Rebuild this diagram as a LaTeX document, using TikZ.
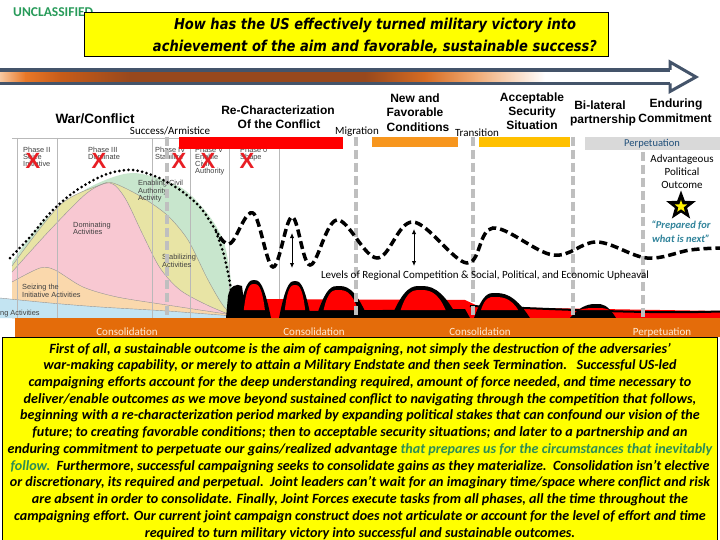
\documentclass[tikz,border=0pt]{standalone}
\usepackage{graphicx}
\usepackage{fontspec}
\setmainfont{Carlito}
\newfontfamily\arialf{Liberation Sans}
\newfontfamily\verdf{DejaVu Sans}
\usetikzlibrary{shapes.geometric,arrows.meta}
\definecolor{ttlyellow}{RGB}{255,255,0}
\definecolor{slate}{RGB}{68,84,106}
\definecolor{unclgreen}{RGB}{40,155,90}
\definecolor{xred}{RGB}{232,30,36}
\definecolor{barred}{RGB}{255,0,0}
\definecolor{barorange}{RGB}{247,150,30}
\definecolor{baryellow}{RGB}{255,192,0}
\definecolor{bargray}{RGB}{217,217,217}
\definecolor{perpblue}{RGB}{31,78,121}
\definecolor{consorange}{RGB}{228,108,10}
\definecolor{constext}{RGB}{255,236,215}
\definecolor{dashgray}{RGB}{191,191,191}
\definecolor{chartline}{RGB}{185,185,185}
\definecolor{cblue}{RGB}{195,228,242}
\definecolor{cpeach}{RGB}{250,216,172}
\definecolor{cpink}{RGB}{248,200,210}
\definecolor{ckhaki}{RGB}{232,228,165}
\definecolor{cgreen}{RGB}{200,230,205}
\definecolor{tealtxt}{RGB}{49,132,155}
\definecolor{greentxt}{RGB}{45,140,85}
\definecolor{ga}{RGB}{248,200,160}
\definecolor{gb}{RGB}{232,120,40}
\definecolor{gc}{RGB}{200,92,25}
\definecolor{gd}{RGB}{152,72,28}
\definecolor{ge}{RGB}{214,108,35}
\definecolor{gf}{RGB}{240,170,115}
\newcommand\humpfill[4]{%
  \fill[black] (#1,318) .. controls ({#1+0.45*(#2-#1)},{#4-1}) and ({#2-0.25*(#2-#1)},{#4-1}) .. (#2,{#4-1})
     .. controls ({#2+0.25*(#3-#2)},{#4-1}) and ({#3-0.45*(#3-#2)},{#4-1}) .. (#3,318) -- cycle;
  \fill[barred] ({#1+0.3*(#2-#1)+1},310) .. controls ({#1+0.55*(#2-#1)},{#4+3}) and ({#2-0.2*(#2-#1)},{#4+3}) .. (#2,{#4+3})
     .. controls ({#2+0.2*(#3-#2)},{#4+3}) and ({#3-0.55*(#3-#2)},{#4+3}) .. ({#3-0.3*(#3-#2)-1},310) -- cycle;
}
\begin{document}
\begin{tikzpicture}[x=1pt,y=-1pt,
  lbl/.style={font=\arialf\bfseries\fontsize{12}{14}\selectfont, inner sep=0, anchor=base},
  smalllbl/.style={font=\fontsize{11}{13}\selectfont, inner sep=0, anchor=base},
  tinylbl/.style={font=\arialf\fontsize{7.4}{8}\selectfont, text=black!75, inner sep=0, anchor=base west},
  xmark/.style={font=\arialf\bfseries\fontsize{22}{22}\selectfont, text=xred, inner sep=0},
  bodyline/.style={font=\bfseries\itshape\fontsize{14.1}{16}\selectfont, inner sep=0, anchor=base},
  titleline/.style={font=\verdf\bfseries\itshape\fontsize{15}{18}\selectfont, inner sep=0, anchor=base},
  vdash/.style={dashgray, line width=4pt, dash pattern=on 9pt off 4pt},
  dotline/.style={line width=3pt, line cap=round, dash pattern=on 0pt off 4.6pt},
  waveline/.style={line width=3.5pt, dash pattern=on 8pt off 4pt},
  chartv/.style={chartline, line width=0.6pt},
  dblarrow/.style={line width=1pt, {Latex[length=5pt,width=4.5pt]}-{Latex[length=5pt,width=4.5pt]}},
  conslbl/.style={font=\fontsize{11}{13}\selectfont, text=constext, inner sep=0, anchor=base}
]
\useasboundingbox (0,0) rectangle (720,540);
\fill[white] (0,0) rectangle (720,540);

% ---------- header ----------
\node[font=\bfseries\fontsize{13.5}{15}\selectfont, text=unclgreen, anchor=base west, inner sep=0] (uncl) at (13,17) {UNCLASSIFIED};
\node[draw=black, fill=ttlyellow, line width=1pt, minimum width=524pt, minimum height=44pt, inner sep=0, anchor=north west] (titlebox) at (84,12) {};
\node[titleline] (t1) at (375,30) {\resizebox{402pt}{\height}{How has the US effectively turned military victory into}};
\node[titleline] (t2) at (375,52) {\resizebox{444pt}{\height}{achievement of the aim and favorable, sustainable success?}};

% ---------- gradient arrow ----------
\fill[left color=ga, right color=gb] (0,71.5) rectangle (25.5,82);
\fill[left color=gb, right color=gc] (25,71.5) rectangle (60.5,82);
\fill[left color=gc, right color=gd] (60,71.5) rectangle (130.5,82);
\fill[gd] (130,71.5) rectangle (365.5,82);
\fill[left color=gd, right color=ge] (365,71.5) rectangle (425.5,82);
\fill[left color=ge, right color=gf] (425,71.5) rectangle (475.5,82);
\fill[left color=gf, right color=white] (475,71.5) rectangle (545,82);
\draw[slate, line width=3.5pt] (0,70) -- (670,70);
\draw[slate, line width=3.5pt] (0,83.5) -- (670,83.5);
\draw[slate, line width=3pt, line join=miter] (670,70) -- (670,62) -- (696,77) -- (670,91.5) -- (670,83.5);

% ---------- top labels ----------
\node[lbl, font=\arialf\bfseries\fontsize{13.5}{15}\selectfont] (war) at (95,124) {War/Conflict};
\node[smalllbl] (succ) at (170,135) {Success/Armistice};
\node[lbl] (rc1) at (278,115) {Re-Characterization};
\node[lbl] (rc2) at (279,129) {Of the Conflict};
\node[smalllbl] (migr) at (357,135) {Migration};
\node[lbl] (nf1) at (415,103) {New and};
\node[lbl] (nf2) at (415,117) {Favorable};
\node[lbl] (nf3) at (418,132) {Conditions};
\node[smalllbl] (trans) at (477,137) {Transition};
\node[lbl] (as1) at (532,102) {Acceptable};
\node[lbl] (as2) at (532,116) {Security};
\node[lbl] (as3) at (532,130) {Situation};
\node[lbl] (bl1) at (600,110) {Bi-lateral};
\node[lbl] (bl2) at (603,124) {partnership};
\node[lbl] (ec1) at (676,108) {Enduring};
\node[lbl] (ec2) at (675,123) {Commitment};

% ---------- phase chart ----------
\fill[cgreen] plot[smooth] coordinates {(12,262) (30,237) (50,215) (90,187) (133,173) (180,187) (207,213) (223,240) (230,273) (234,316)} -- (234,318) -- (12,318) -- cycle;
\fill[ckhaki] plot[smooth] coordinates {(12,266) (60,205) (100,185) (113,183) (140,196) (167,215) (188,240) (207,278) (222,304) (233,316)} -- (233,318) -- (12,318) -- cycle;
\fill[cpink] plot[smooth] coordinates {(12,272) (50,230) (87,193) (110,183) (125,198) (143,235) (160,268) (180,290) (207,305) (233,316)} -- (233,318) -- (12,318) -- cycle;
\fill[cpeach] plot[smooth] coordinates {(12,282) (40,268) (55,270) (83,287) (117,297) (167,305) (233,315)} -- (233,318) -- (12,318) -- cycle;
\fill[cblue] plot[smooth] coordinates {(0,298) (50,303) (100,307) (167,311) (233,316)} -- (233,318) -- (0,318) -- cycle;
\draw[chartline!80!black, line width=0.4pt] plot[smooth] coordinates {(12,266) (60,205) (100,185) (113,183) (140,196) (167,215) (188,240) (207,278) (222,304) (233,316)};
\draw[chartline!80!black, line width=0.4pt] plot[smooth] coordinates {(12,272) (50,230) (87,193) (110,183) (125,198) (143,235) (160,268) (180,290) (207,305) (233,316)};
\draw[chartline!80!black, line width=0.4pt] plot[smooth] coordinates {(12,282) (40,268) (55,270) (83,287) (117,297) (167,305) (233,315)};
\draw[chartline!80!black, line width=0.4pt] plot[smooth] coordinates {(0,298) (50,303) (100,307) (167,311) (233,316)};
\draw[chartv] (12,138) -- (280,138);
\foreach \xx in {17,57,152,190,229} { \draw[chartv] (\xx,138) -- (\xx,318); }
\draw[chartv] (279,138) -- (279,300);

\node[tinylbl] (p2a) at (23,153) {Phase II};
\node[tinylbl] (p2b) at (23,160) {Seize};
\node[tinylbl] (p2c) at (23,167) {Initiative};
\node[tinylbl] (p3a) at (88,153) {Phase III};
\node[tinylbl] (p3b) at (88,160) {Dominate};
\node[tinylbl] (p4a) at (155,153) {Phase IV};
\node[tinylbl] (p4b) at (155,160) {Stabilize};
\node[tinylbl] (p5a) at (195,153) {Phase V};
\node[tinylbl] (p5b) at (195,160) {Enable};
\node[tinylbl] (p5c) at (195,167) {Civil};
\node[tinylbl] (p5d) at (195,174) {Authority};
\node[tinylbl] (p0a) at (240,153) {Phase 0};
\node[tinylbl] (p0b) at (240,160) {Shape};
\node[tinylbl] (ec1l) at (138,186) {Enabling Civil};
\node[tinylbl] (ec2l) at (138,193.5) {Authority};
\node[tinylbl] (ec3l) at (138,201) {Activity};
\node[tinylbl] (dm1) at (73,227) {Dominating};
\node[tinylbl] (dm2) at (73,235) {Activities};
\node[tinylbl] (st1) at (162,259) {Stabilizing};
\node[tinylbl] (st2) at (162,267) {Activities};
\node[tinylbl] (sz1) at (22,289) {Seizing the};
\node[tinylbl] (sz2) at (22,297) {Initiative Activities};
\node[tinylbl] (dt1) at (0,315) {ng Activities};

\node[xmark] (x1) at (33,161) {X};
\node[xmark] (x2) at (99,161) {X};
\node[xmark] (x3) at (179,161) {X};
\node[xmark] (x4) at (208,161) {X};
\node[xmark] (x5) at (247,161) {X};

% ---------- bars ----------
\fill[barred] (179,137) rectangle (343,149);
\fill[barorange] (372,137) rectangle (458,147);
\fill[baryellow] (479,137) rectangle (570,147);
\fill[bargray] (585,137) rectangle (720,150);
\node[font=\fontsize{10.5}{12}\selectfont, text=perpblue, inner sep=0, anchor=base] (perp) at (652,146.5) {Perpetuation};

% ---------- bottom red/black shapes ----------
\fill[barred] (236,299) -- (465,300) -- (480,307) -- (720,311) -- (720,318) -- (236,318) -- cycle;
\draw[black, line width=2pt] (470,306) .. controls (560,309) and (640,314) .. (720,311.5);
\fill[black] (226,318) -- (228,296) .. controls (230,286) and (236,283) .. (242,286) -- (246,318) -- cycle;
\fill[black] (300,318) -- (300,311) -- (465,309) -- (470,318) -- cycle;
\humpfill{238}{254}{271}{281}
\humpfill{279}{295}{311}{282}
\humpfill{316}{338}{368}{287}
\humpfill{391}{420}{458}{287}
\humpfill{474}{494}{530}{294}
\humpfill{570}{597}{616}{305}

% ---------- vertical dashed lines ----------
\draw[vdash] (167,137) -- (167,318);
\draw[vdash] (356,137) -- (356,318);
\draw[vdash] (473,137) -- (473,318);
\draw[vdash] (573,137) -- (573,318);
\draw[vdash] (643,152) -- (643,318);

% ---------- dotted / dashed curves ----------
\draw[dotline] plot[smooth] coordinates {(10,258) (30,237) (50,213) (70,195) (90,182) (110,173) (133,170) (157,177) (180,190) (200,207) (213,226) (220,237)};
\draw[dotline] plot[smooth] coordinates {(216,232) (224,255) (229,278) (232,296)};
\draw[waveline] plot[smooth, tension=0.6] coordinates {(220,237) (231,243) (253,213) (273,267) (292,217) (310,265) (337,220) (377,258) (413,222) (467,263) (493,228) (553,255) (597,242) (647,258) (690,250) (720,248)};

\coordinate (da1) at (292,233);
\coordinate (da2) at (292,268);
\coordinate (db1) at (414,229);
\coordinate (db2) at (414,266);
\draw[dblarrow] (da1) -- (da2);
\draw[dblarrow] (db1) -- (db2);

\node[font=\fontsize{11}{13}\selectfont, inner sep=0, anchor=base] (levels) at (485,278) {Levels of Regional Competition \& Social, Political, and Economic Upheaval};

% ---------- outcome ----------
\node[smalllbl] (adv1) at (682,163) {Advantageous};
\node[smalllbl] (adv2) at (682,176) {Political};
\node[smalllbl] (adv3) at (682,189) {Outcome};
\node[star, star points=5, star point ratio=2.4, minimum size=31pt, fill=black, inner sep=0] (starb) at (681,206) {};
\node[star, star points=5, star point ratio=2.4, minimum size=13pt, fill=yellow, inner sep=0] (stary) at (681,206.5) {};
\node[font=\bfseries\itshape\fontsize{10.5}{12}\selectfont, text=tealtxt, inner sep=0, anchor=base] (prep1) at (681,229) {“Prepared for};
\node[font=\bfseries\itshape\fontsize{10.5}{12}\selectfont, text=tealtxt, inner sep=0, anchor=base] (prep2) at (681,242) {what is next”};

% ---------- consolidation band ----------
\fill[consorange] (15,318) rectangle (720,337);
\node[conslbl] (c1) at (127,335) {Consolidation};
\node[conslbl] (c2) at (314,335) {Consolidation};
\node[conslbl] (c3) at (480,335) {Consolidation};
\node[conslbl] (c4) at (662,335) {Perpetuation};

% ---------- body text box ----------
\draw[black, line width=1pt, fill=ttlyellow] (2.5,337) rectangle (717,541);
\node[bodyline] (b1) at (360,353) {First of all, a sustainable outcome is the aim of campaigning, not simply the destruction of the adversaries’};
\node[bodyline] (b2) at (360,369.7) {war-making capability, or merely to attain a Military Endstate and then seek Termination.\ \ \ Successful US-led};
\node[bodyline] (b3) at (360,386.5) {campaigning efforts account for the deep understanding required, amount of force needed, and time necessary to};
\node[bodyline] (b4) at (360,403.2) {deliver/enable outcomes as we move beyond sustained conflict to navigating through the competition that follows,};
\node[bodyline] (b5) at (360,419.9) {beginning with a re-characterization period marked by expanding political stakes that can confound our vision of the};
\node[bodyline] (b6) at (360,436.7) {future; to creating favorable conditions; then to acceptable security situations; and later to a partnership and an};
\node[bodyline] (b7) at (360,453.4) {enduring commitment to perpetuate our gains/realized advantage {\color{greentxt}that prepares us for the circumstances that inevitably}};
\node[bodyline] (b8) at (360,470.1) {{\color{greentxt}follow.}\ \ Furthermore, successful campaigning seeks to consolidate gains as they materialize.\ \ Consolidation isn’t elective};
\node[bodyline] (b9) at (360,486.8) {or discretionary, its required and perpetual.\ \ Joint leaders can’t wait for an imaginary time/space where conflict and risk};
\node[bodyline] (b10) at (360,503.6) {are absent in order to consolidate. Finally, Joint Forces execute tasks from all phases, all the time throughout the};
\node[bodyline] (b11) at (360,520.3) {campaigning effort. Our current joint campaign construct does not articulate or account for the level of effort and time};
\node[bodyline] (b12) at (360,537) {required to turn military victory into successful and sustainable outcomes.};
\end{tikzpicture}
\end{document}
